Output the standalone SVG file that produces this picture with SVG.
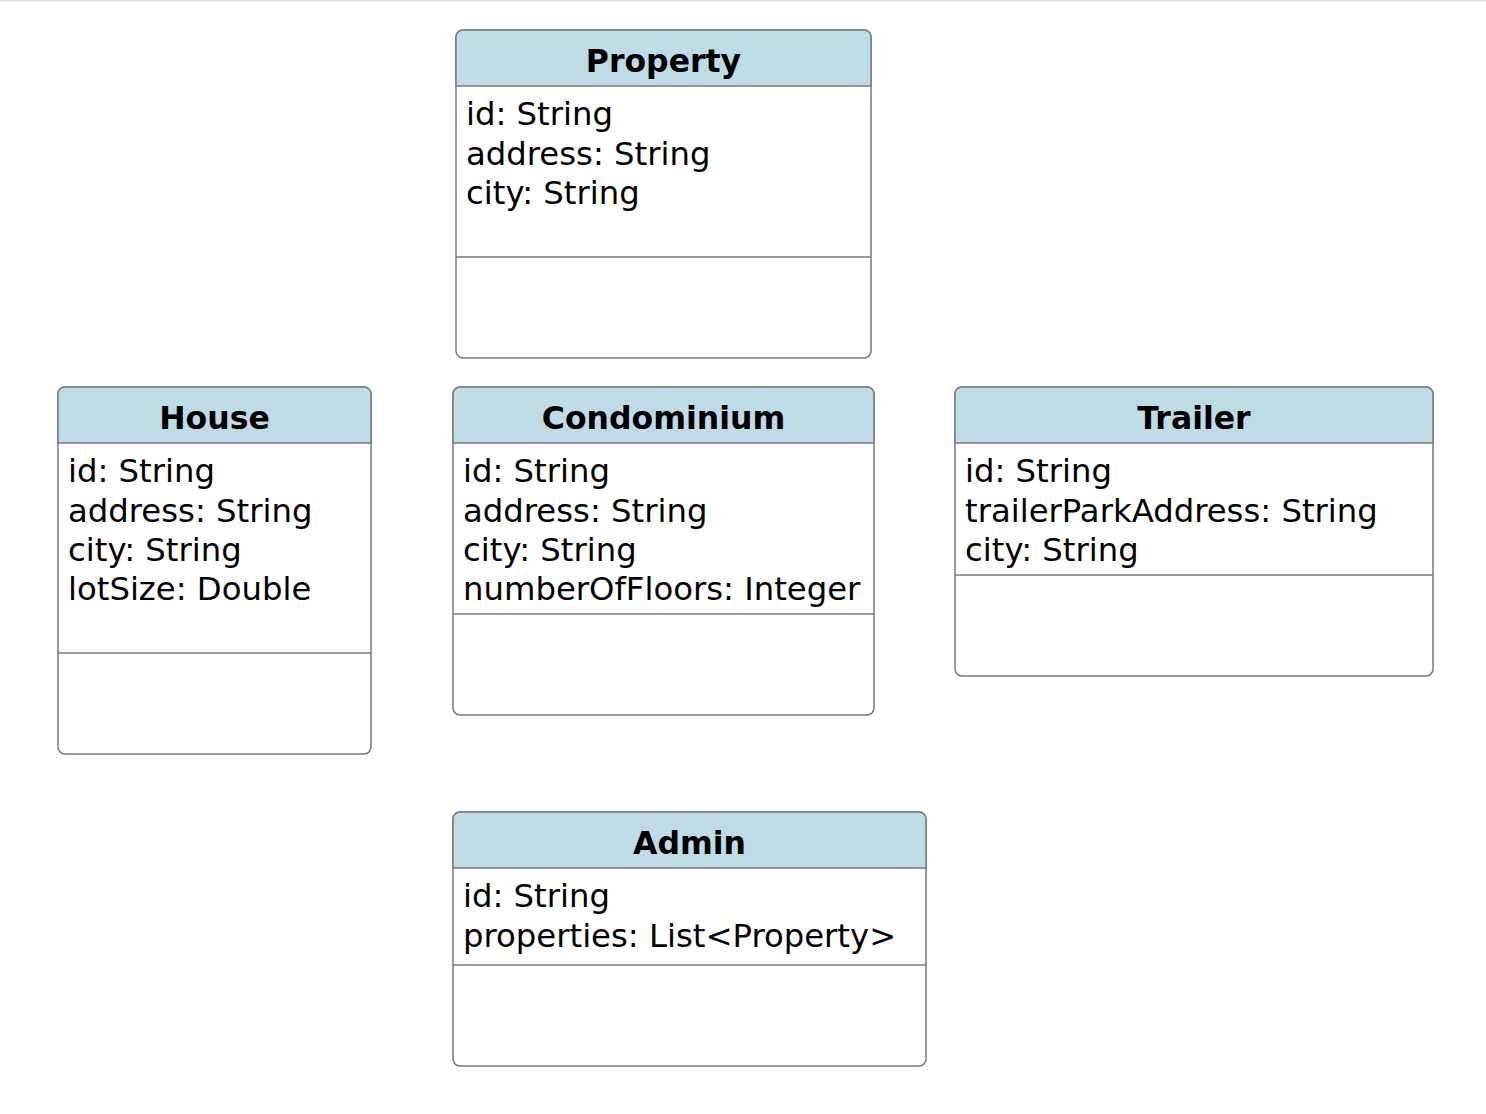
<svg xmlns="http://www.w3.org/2000/svg" width="1486" height="1114" viewBox="0 0 1486 1114">
<style>
.box{fill:#ffffff;stroke:#7a7a7a;stroke-width:1.5}
.hdr{fill:#bfdce6;stroke:#7a7a7a;stroke-width:1.5}
.sep{stroke:#7a7a7a;stroke-width:1.5;fill:none}
.title{font-family:"DejaVu Sans",Verdana,sans-serif;font-weight:bold;font-size:31.5px;fill:#000;text-anchor:middle}
.attr{font-family:"DejaVu Sans",Verdana,sans-serif;font-size:32.3px;fill:#000}
</style>
<rect x="0" y="0" width="1486" height="1114" fill="#ffffff"/>
<line x1="0" y1="0.75" x2="1486" y2="0.75" stroke="#e0e0e0" stroke-width="1.5"/>
<g id="connectors"></g>
<g id="Property">
<rect class="box" x="456" y="30" width="415" height="328" rx="7"/>
<path class="hdr" d="M456,86 V37 A7,7 0 0 1 463,30 H864 A7,7 0 0 1 871,37 V86 Z"/>
<line class="sep" x1="456" y1="257" x2="871" y2="257"/>
<text class="title" x="663.5" y="72">Property</text>
<text class="attr" x="466" y="125">id: String</text>
<text class="attr" x="466" y="164.5">address: String</text>
<text class="attr" x="466" y="204">city: String</text>
</g>
<g id="House">
<rect class="box" x="58" y="387" width="313" height="367" rx="7"/>
<path class="hdr" d="M58,443 V394 A7,7 0 0 1 65,387 H364 A7,7 0 0 1 371,394 V443 Z"/>
<line class="sep" x1="58" y1="653" x2="371" y2="653"/>
<text class="title" x="214.5" y="429">House</text>
<text class="attr" x="68" y="482">id: String</text>
<text class="attr" x="68" y="521.5">address: String</text>
<text class="attr" x="68" y="561">city: String</text>
<text class="attr" x="68" y="600">lotSize: Double</text>
</g>
<g id="Condominium">
<rect class="box" x="453" y="387" width="421" height="328" rx="7"/>
<path class="hdr" d="M453,443 V394 A7,7 0 0 1 460,387 H867 A7,7 0 0 1 874,394 V443 Z"/>
<line class="sep" x1="453" y1="614" x2="874" y2="614"/>
<text class="title" x="663.5" y="429">Condominium</text>
<text class="attr" x="463" y="482">id: String</text>
<text class="attr" x="463" y="521.5">address: String</text>
<text class="attr" x="463" y="561">city: String</text>
<text class="attr" x="463" y="600">numberOfFloors: Integer</text>
</g>
<g id="Trailer">
<rect class="box" x="955" y="387" width="478" height="289" rx="7"/>
<path class="hdr" d="M955,443 V394 A7,7 0 0 1 962,387 H1426 A7,7 0 0 1 1433,394 V443 Z"/>
<line class="sep" x1="955" y1="575" x2="1433" y2="575"/>
<text class="title" x="1194" y="429">Trailer</text>
<text class="attr" x="965" y="482">id: String</text>
<text class="attr" x="965" y="521.5">trailerParkAddress: String</text>
<text class="attr" x="965" y="561">city: String</text>
</g>
<g id="Admin">
<rect class="box" x="453" y="812" width="473" height="254" rx="7"/>
<path class="hdr" d="M453,868 V819 A7,7 0 0 1 460,812 H919 A7,7 0 0 1 926,819 V868 Z"/>
<line class="sep" x1="453" y1="965" x2="926" y2="965"/>
<text class="title" x="689.5" y="854">Admin</text>
<text class="attr" x="463" y="907">id: String</text>
<text class="attr" x="463" y="946.5">properties: List&lt;Property&gt;</text>
</g>
</svg>
